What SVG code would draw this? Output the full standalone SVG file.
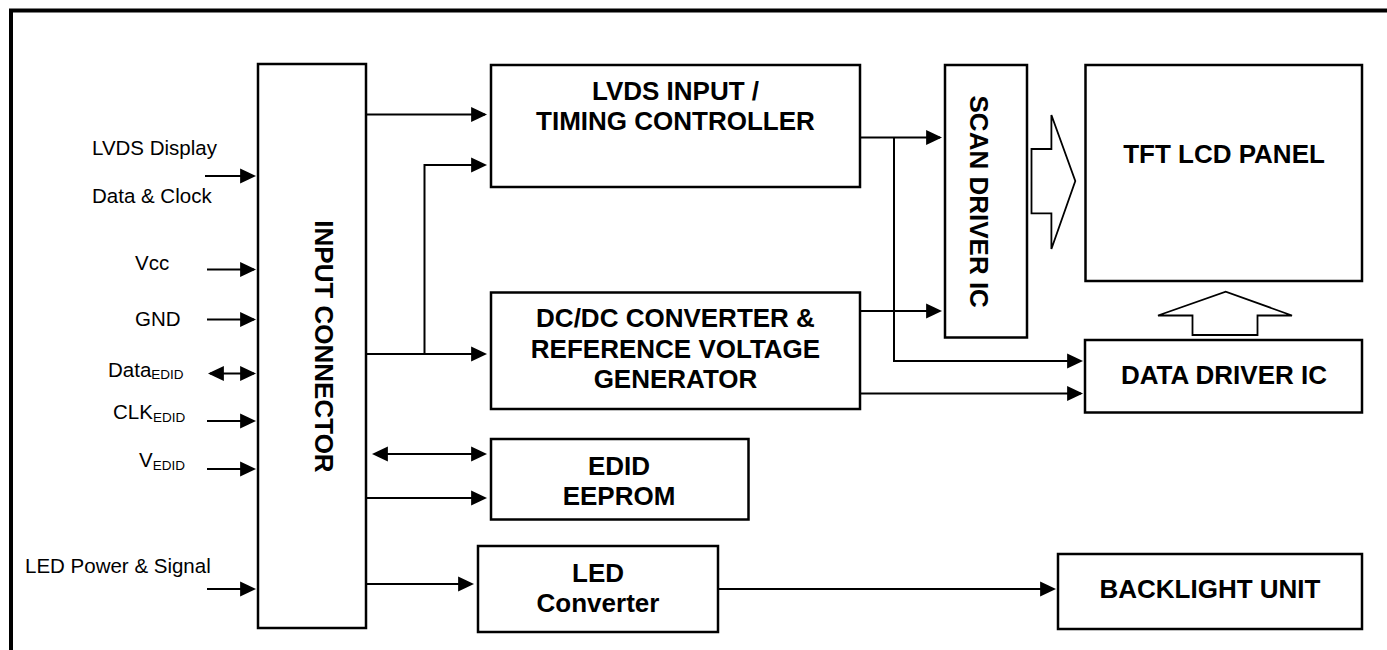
<svg xmlns="http://www.w3.org/2000/svg" width="1387" height="650" viewBox="0 0 1387 650">
<style>
.box{fill:#fff;stroke:#000;stroke-width:2.5}
.lbl{font-family:"Liberation Sans",Arial,sans-serif;font-size:26px;font-weight:bold;fill:#000;text-anchor:middle}
.sig{font-family:"Liberation Sans",Arial,sans-serif;font-size:20.5px;fill:#000}
.sub{font-size:13.5px}
.ln{fill:none;stroke:#000;stroke-width:2}
.hol{fill:#fff;stroke:#000;stroke-width:1.8;stroke-linejoin:miter}
</style>
<defs>
<marker id="ah" markerUnits="userSpaceOnUse" markerWidth="16" markerHeight="16" viewBox="0 0 15 14" refX="13" refY="7" orient="auto-start-reverse">
<path d="M0,0 L15,7 L0,14 z" fill="#000"/>
</marker>
</defs>
<rect width="1387" height="650" fill="#fff"/>
<path d="M11,650 V10.5 H1387" fill="none" stroke="#000" stroke-width="4"/>

<g id="input-connector">
<rect class="box" x="258" y="64" width="108" height="564"/>
<text class="lbl" transform="translate(315,346.5) rotate(90)">INPUT CONNECTOR</text>
</g>
<g id="lvds-timing">
<rect class="box" x="491" y="65" width="369" height="122"/>
<text class="lbl" x="675.5" y="100">LVDS INPUT /</text>
<text class="lbl" x="675.5" y="130">TIMING CONTROLLER</text>
</g>
<g id="dcdc">
<rect class="box" x="491" y="292.5" width="369" height="116.5"/>
<text class="lbl" x="675.5" y="326.7">DC/DC CONVERTER &amp;</text>
<text class="lbl" x="675.5" y="357.5">REFERENCE VOLTAGE</text>
<text class="lbl" x="675.5" y="388.3">GENERATOR</text>
</g>
<g id="edid">
<rect class="box" x="491" y="439" width="257.5" height="80.5"/>
<text class="lbl" x="619" y="475">EDID</text>
<text class="lbl" x="619" y="505">EEPROM</text>
</g>
<g id="led-converter">
<rect class="box" x="478" y="546" width="240" height="86"/>
<text class="lbl" x="598" y="581.7">LED</text>
<text class="lbl" x="598" y="611.7">Converter</text>
</g>
<g id="scan-driver">
<rect class="box" x="945" y="65" width="82" height="272.5"/>
<text class="lbl" transform="translate(970,201.7) rotate(90)">SCAN DRIVER IC</text>
</g>
<g id="tft-panel">
<rect class="box" x="1085.5" y="65" width="276.5" height="216"/>
<text class="lbl" x="1224" y="162.7">TFT LCD PANEL</text>
</g>
<g id="data-driver">
<rect class="box" x="1085" y="340" width="277" height="72.5"/>
<text class="lbl" x="1224" y="384.3">DATA DRIVER IC</text>
</g>
<g id="backlight">
<rect class="box" x="1058" y="554" width="304" height="75"/>
<text class="lbl" x="1210" y="598.3">BACKLIGHT UNIT</text>
</g>

<g id="signals">
<text class="sig" x="92" y="155">LVDS Display</text>
<text class="sig" x="92" y="202.7">Data &amp; Clock</text>
<text class="sig" x="135" y="270">Vcc</text>
<text class="sig" x="135" y="326">GND</text>
<text class="sig" x="108" y="376.7">Data<tspan class="sub" dy="1.8">EDID</tspan></text>
<text class="sig" x="113" y="419">CLK<tspan class="sub" dy="2.5">EDID</tspan></text>
<text class="sig" x="139" y="467.3">V<tspan class="sub" dy="2.7">EDID</tspan></text>
<text class="sig" x="25" y="573.3">LED Power &amp; Signal</text>
</g>

<g id="connectors">
<path class="ln" d="M205,176 H254" marker-end="url(#ah)"/>
<path class="ln" d="M207,269.5 H254" marker-end="url(#ah)"/>
<path class="ln" d="M207,319.5 H254" marker-end="url(#ah)"/>
<path class="ln" d="M210,373.5 H254" marker-start="url(#ah)" marker-end="url(#ah)"/>
<path class="ln" d="M207,421 H254" marker-end="url(#ah)"/>
<path class="ln" d="M207,469 H254" marker-end="url(#ah)"/>
<path class="ln" d="M207,589 H254" marker-end="url(#ah)"/>

<path class="ln" d="M366,114.5 H485" marker-end="url(#ah)"/>
<path class="ln" d="M366,354 H485" marker-end="url(#ah)"/>
<path class="ln" d="M424.5,354 V165 H485" marker-end="url(#ah)"/>
<path class="ln" d="M374,454 H485" marker-start="url(#ah)" marker-end="url(#ah)"/>
<path class="ln" d="M366,498 H485" marker-end="url(#ah)"/>
<path class="ln" d="M366,584 H472" marker-end="url(#ah)"/>

<path class="ln" d="M860,137.5 H940" marker-end="url(#ah)"/>
<path class="ln" d="M894,137.5 V361 H1081" marker-end="url(#ah)"/>
<path class="ln" d="M860,311 H940" marker-end="url(#ah)"/>
<path class="ln" d="M860,393.5 H1081" marker-end="url(#ah)"/>
<path class="ln" d="M718,589 H1054" marker-end="url(#ah)"/>

<polygon class="hol" points="1031.5,149 1051.4,149 1051.4,115 1075.3,181 1051.4,249 1051.4,213.3 1031.5,213.3"/>
<polygon class="hol" points="1192.5,335 1192.5,315.5 1158,315.5 1225.7,291.7 1292,315.5 1257.5,315.5 1257.5,335"/>
</g>
</svg>
